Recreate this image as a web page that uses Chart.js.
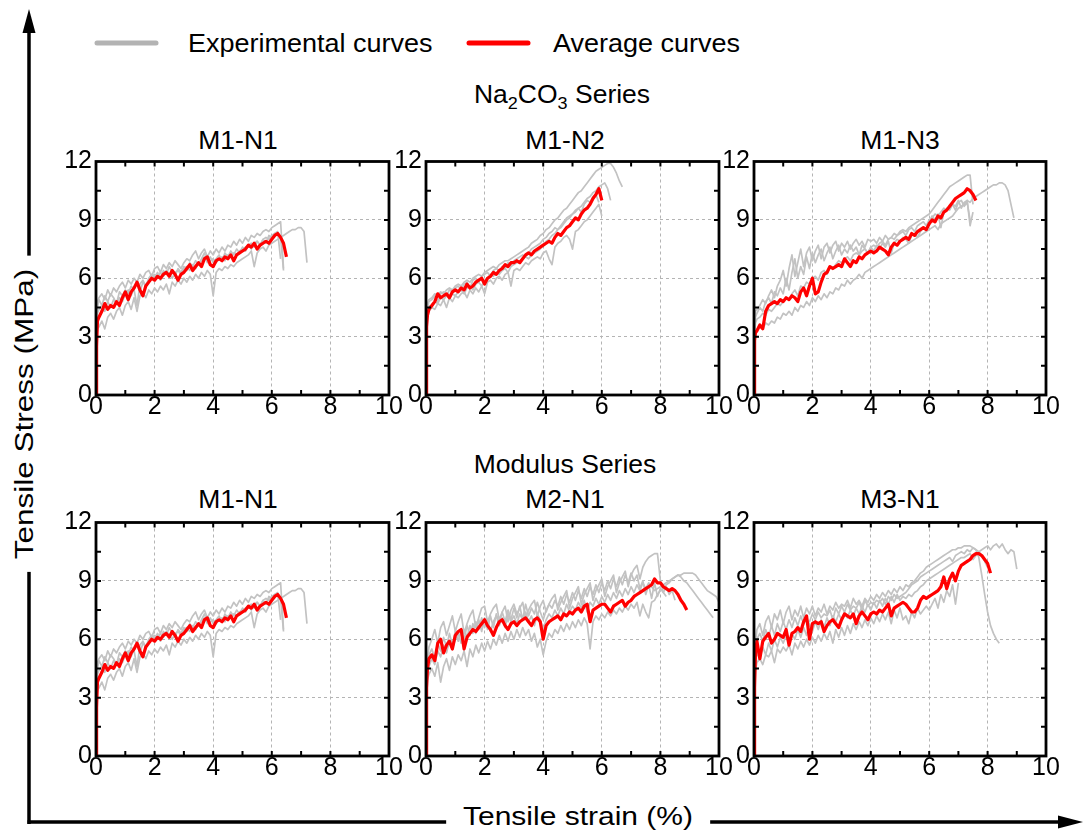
<!DOCTYPE html>
<html>
<head>
<meta charset="utf-8">
<script src="https://cdn.jsdelivr.net/npm/chart.js@4.4.0/dist/chart.umd.min.js"></script>
<style>
  body { margin: 0; background: #fff; }
  #page { position: relative; width: 1084px; height: 833px; overflow: hidden; background: #fff; }
  #page canvas { position: absolute; }
  .txt { position: absolute; font-family: 'Liberation Sans', Arial, sans-serif; color: #000;
         line-height: 1; white-space: nowrap; font-size: 25px; }
  .mid { transform: translate(-50%, -50%) scaleX(1.06); }
  .lft { transform: translateY(-50%) scaleX(1.08); transform-origin: left center; }
  .sub { font-size: 17px; position: relative; top: 6px; }
</style>
</head>
<body>
<div id="page">
  <svg width="1084" height="833" style="position:absolute;left:0;top:0">
    <line x1="29" y1="824" x2="29" y2="28" stroke="#000" stroke-width="3.5"/>
    <polygon points="29,9 22.5,33 35.5,33" fill="#000"/>
    <line x1="27.5" y1="822" x2="1060" y2="822" stroke="#000" stroke-width="3.5"/>
    <polygon points="1083,822 1058,815.5 1058,828.5" fill="#000"/>
    <line x1="97" y1="43" x2="156" y2="43" stroke="#b3b3b3" stroke-width="5" stroke-linecap="round"/>
    <line x1="469" y1="43" x2="528" y2="43" stroke="#ff0000" stroke-width="5" stroke-linecap="round"/>
  </svg>

  <div class="txt lft" style="left:188px;top:43px">Experimental curves</div>
  <div class="txt lft" style="left:553px;top:43px">Average curves</div>
  <div class="txt mid" style="left:562px;top:94px">Na<span class="sub">2</span>CO<span class="sub">3</span> Series</div>
  <div class="txt mid" style="left:565px;top:464px">Modulus Series</div>

  <div class="txt mid" style="left:238px;top:140px">M1-N1</div>
  <div class="txt mid" style="left:565px;top:140px">M1-N2</div>
  <div class="txt mid" style="left:900px;top:140px">M1-N3</div>
  <div class="txt mid" style="left:238px;top:499px">M1-N1</div>
  <div class="txt mid" style="left:565px;top:499px">M2-N1</div>
  <div class="txt mid" style="left:900px;top:499px">M3-N1</div>

  <div class="txt" style="left:24px;top:414px;background:#fff;padding:0 10px;transform:translate(-50%,-50%) rotate(-90deg) scaleX(1.26)">Tensile Stress (MPa)</div>
  <div class="txt" style="left:578px;top:816px;background:#fff;padding:0 14px;transform:translate(-50%,-50%) scaleX(1.2)">Tensile strain (%)</div>

  <canvas id="pA" width="363" height="284" style="left:46px;top:145px"></canvas>
  <canvas id="pB" width="363" height="284" style="left:376px;top:145px"></canvas>
  <canvas id="pC" width="362" height="284" style="left:704px;top:145px"></canvas>
  <canvas id="pD" width="363" height="284" style="left:46px;top:506px"></canvas>
  <canvas id="pE" width="363" height="284" style="left:376px;top:506px"></canvas>
  <canvas id="pF" width="362" height="284" style="left:704px;top:506px"></canvas>
</div>

<script>
// strain (%) shared by every curve, each curve uses as many points as it has values
var strain = [0, 0.02, 0.05,
    0.1, 0.2, 0.3, 0.4, 0.5, 0.6, 0.7, 0.8, 0.9, 1.0,
    1.1, 1.2, 1.3, 1.4, 1.5, 1.6, 1.7, 1.8, 1.9, 2.0,
    2.1, 2.2, 2.3, 2.4, 2.5, 2.6, 2.7, 2.8, 2.9, 3.0,
    3.1, 3.2, 3.3, 3.4, 3.5, 3.6, 3.7, 3.8, 3.9, 4.0,
    4.1, 4.2, 4.3, 4.4, 4.5, 4.6, 4.7, 4.8, 4.9, 5.0,
    5.1, 5.2, 5.3, 5.4, 5.5, 5.6, 5.7, 5.8, 5.9, 6.0,
    6.1, 6.2, 6.3, 6.4, 6.5, 6.6, 6.7, 6.8, 6.9, 7.0,
    7.1, 7.2, 7.3, 7.4, 7.5, 7.6, 7.7, 7.8, 7.9, 8.0,
    8.1, 8.2, 8.3, 8.4, 8.5, 8.6, 8.7, 8.8, 8.9, 9.0,
    9.1, 9.2, 9.3, 9.4, 9.5, 9.6, 9.7, 9.8, 9.9, 10.0];

var xTicks = [0, 2, 4, 6, 8, 10];
var yTicks = [0, 3, 6, 9, 12];
var xMinor = [1, 2, 3, 4, 5, 6, 7, 8, 9];
var yMinor = [1.5, 3, 4.5, 6, 7.5, 9, 10.5];

// ---- M1-N1 ----
var m1n1Avg = [0, 2.5, 3.8,
    4.0, 4.3, 4.7, 4.4, 4.6, 4.5, 4.8, 4.6, 5.0, 5.3,
    4.9, 5.3, 5.5, 5.8, 5.4, 5.1, 5.6, 5.8, 6.0, 5.9,
    6.1, 6.0, 6.2, 6.3, 6.1, 6.4, 6.2, 5.9, 6.2, 6.3,
    6.5, 6.7, 6.4, 6.6, 6.8, 6.6, 7.0, 7.1, 6.7, 6.6,
    6.9, 7.0, 6.9, 7.1, 7.0, 7.2, 6.9, 7.2, 7.3, 7.4,
    7.5, 7.7, 7.6, 7.8, 7.5, 7.7, 7.8, 7.9, 7.8, 8.0,
    8.2, 8.3, 8.1, 7.8, 7.1];
var m1n1Exp1 = [0, 3.5, 4.8,
    5.0, 5.2, 4.9, 5.4, 5.1, 5.5, 5.3, 5.6, 5.8, 5.5,
    5.9, 5.7, 6.0, 5.8, 6.2, 6.0, 6.3, 6.4, 6.1, 6.5,
    6.6, 6.3, 6.7, 6.5, 6.8, 6.6, 6.9, 6.7, 6.5, 6.8,
    7.0, 6.9, 7.2, 7.4, 7.0, 7.3, 7.5, 7.1, 7.4, 7.2,
    7.5, 7.3, 7.6, 7.4, 7.7, 7.6, 7.9, 7.7, 8.0, 7.8,
    8.1, 7.9, 8.2, 8.1, 8.3, 8.2, 8.4, 8.5, 8.4, 8.6,
    8.7, 8.8, 8.9, 6.5];
var m1n1Exp2 = [0, 2.8, 3.4,
    3.5, 3.8, 3.4, 4.0, 4.2, 3.9, 4.3, 4.5, 4.1, 4.6,
    4.8, 4.4, 5.0, 4.3, 5.1, 5.3, 5.0, 5.4, 5.2, 5.5,
    5.3, 5.6, 5.4, 5.7, 5.2, 5.8, 5.6, 5.9, 5.7, 6.0,
    5.8, 6.1, 5.9, 6.2, 6.0, 6.3, 6.1, 6.4, 6.2, 5.1,
    6.3, 6.5, 6.4, 6.6, 6.5, 6.7, 6.6, 6.8, 6.9, 7.0,
    7.1, 7.2, 7.4, 6.6, 7.3, 7.5, 7.6, 7.4, 7.7, 7.8,
    7.9, 8.0, 8.1, 6.4];
var m1n1Exp3 = [0, 3.0, 4.2,
    4.4, 4.6, 4.3, 4.8, 4.5, 4.9, 4.7, 5.0, 4.8, 5.2,
    5.4, 5.1, 5.5, 5.7, 5.3, 5.8, 5.6, 5.9, 6.1, 6.2,
    6.0, 6.3, 6.1, 6.4, 6.2, 6.0, 6.3, 6.4, 6.2, 6.5,
    6.6, 6.4, 6.7, 6.5, 6.8, 6.9, 7.1, 6.8, 6.9, 7.0,
    6.8, 7.0, 7.1, 6.9, 7.2, 7.1, 7.3, 7.2, 7.4, 7.5,
    7.6, 7.7, 7.5, 7.8, 7.9, 7.7, 8.0, 8.1, 8.0, 8.2,
    8.3, 8.2, 8.1, 8.2, 8.3, 8.4, 8.5, 8.5, 8.6, 8.6,
    8.4, 6.8];
var m1n1Exp4 = [0, 3.2, 4.5,
    4.9, 4.6, 5.1, 4.8, 5.2, 5.0, 4.7, 5.3, 5.1, 5.4,
    5.2, 5.6, 5.4, 4.6, 5.7, 5.9, 5.6, 6.0, 6.2, 6.0,
    6.3, 5.9, 6.4, 6.2, 6.6, 6.3, 6.1, 6.5, 6.3, 6.6,
    6.4, 6.8, 6.6, 6.9, 6.7, 7.0, 7.3, 6.9, 7.1, 6.8,
    7.0, 7.2, 6.9, 7.3, 7.1, 7.4, 7.2, 7.5, 7.3, 7.6,
    7.4, 7.7, 7.8, 7.6, 7.9, 7.7, 8.0, 7.8, 8.2, 8.1,
    8.3, 8.4, 7.0];

// ---- M1-N2 ----
var m1n2Avg = [0, 3.5, 4.1,
    4.4, 4.6, 4.8, 5.2, 5.0, 5.1, 5.2, 5.0, 5.3, 5.4,
    5.3, 5.5, 5.4, 5.7, 5.5, 5.6, 5.8, 5.9, 6.0, 5.7,
    6.0, 6.1, 6.3, 6.2, 6.4, 6.5, 6.7, 6.6, 6.8, 6.8,
    6.9, 6.8, 7.0, 7.2, 7.3, 7.2, 7.4, 7.5, 7.6, 7.7,
    7.8, 7.9, 7.8, 8.1, 8.3, 8.2, 8.4, 8.6, 8.7, 8.9,
    9.1, 9.0, 9.3, 9.5, 9.6, 9.8, 10.1, 10.3, 10.6, 10.0];
var m1n2Exp1 = [0, 3.8, 4.7,
    4.9, 5.0, 5.2, 5.1, 5.3, 5.2, 5.4, 5.5, 5.4, 5.6,
    5.7, 5.6, 5.8, 5.9, 5.8, 6.0, 6.1, 6.2, 6.1, 6.3,
    6.4, 6.5, 6.6, 6.5, 6.7, 6.8, 6.9, 6.9, 7.0, 7.1,
    7.2, 7.3, 7.4, 7.5, 7.6, 7.8, 7.9, 8.0, 8.2, 8.3,
    8.5, 8.6, 8.8, 9.0, 9.1, 9.3, 9.5, 9.6, 9.8, 10.0,
    10.2, 10.4, 10.5, 10.7, 10.9, 11.1, 11.3, 11.5, 11.6, 11.7,
    11.8, 11.9, 11.9, 11.7, 11.4, 11.0, 10.7];
var m1n2Exp2 = [0, 3.3, 4.3,
    4.6, 4.5, 4.8, 4.7, 5.0, 4.9, 5.1, 5.0, 5.2, 5.1,
    5.3, 5.4, 5.2, 5.5, 5.6, 5.4, 5.7, 5.8, 5.6, 5.9,
    6.0, 6.2, 6.1, 6.3, 6.2, 6.4, 6.5, 6.3, 6.6, 6.7,
    6.8, 6.9, 7.0, 7.1, 7.0, 7.2, 7.3, 7.4, 7.5, 7.7,
    7.9, 8.0, 8.2, 8.3, 8.5, 8.6, 8.8, 9.0, 9.1, 9.3,
    9.4, 9.6, 9.7, 9.9, 10.1, 10.2, 10.4, 10.5, 10.7, 10.8,
    10.9, 10.6, 10.0];
var m1n2Exp3 = [0, 3.0, 3.9,
    4.3, 4.5, 4.4, 4.7, 4.6, 4.9, 4.5, 5.0, 4.8, 5.1,
    5.0, 5.2, 5.3, 5.0, 5.4, 5.2, 5.5, 5.3, 5.6, 5.2,
    5.8, 5.9, 5.7, 6.0, 6.1, 5.9, 6.2, 6.3, 5.6, 6.4,
    6.5, 6.4, 6.6, 6.8, 6.7, 6.9, 7.0, 7.1, 7.0, 7.3,
    7.4, 7.0, 6.7, 7.6, 7.8, 7.9, 8.1, 8.2, 8.0, 7.5,
    8.4, 8.5, 8.7, 8.9, 9.0, 9.2, 9.4, 9.6, 9.8, 9.2];
var m1n2Exp4 = [0, 3.6, 4.5,
    4.8, 4.9, 5.1, 4.8, 5.2, 5.3, 5.1, 5.4, 5.3, 5.5,
    5.6, 5.4, 5.7, 5.8, 5.5, 5.9, 6.0, 5.8, 6.1, 6.2,
    6.3, 6.1, 6.4, 6.5, 6.4, 6.6, 6.5, 6.8, 6.7, 6.9,
    7.0, 7.1, 7.2, 7.1, 7.3, 7.5, 7.6, 7.7, 7.8, 8.0,
    8.1, 8.3, 8.4, 8.6, 8.5, 8.7, 8.9, 9.1, 9.2, 9.3,
    9.5, 9.6, 9.4, 9.8, 10.0, 9.9, 10.2, 10.3, 9.9];

// ---- M1-N3 ----
var m1n3Avg = [0, 2.8, 3.2,
    3.3, 3.6, 3.4, 4.3, 4.6, 4.7, 4.8, 4.7, 4.9, 4.8,
    5.0, 4.9, 5.1, 5.0, 4.8, 5.3, 5.5, 5.1, 5.6, 6.0,
    5.2, 5.3, 5.8, 6.2, 6.3, 6.6, 6.5, 6.6, 6.7, 6.6,
    7.0, 6.8, 6.6, 6.9, 6.8, 7.1, 7.0, 7.2, 7.3, 7.4,
    7.3, 7.4, 7.6, 7.5, 7.4, 7.2, 7.6, 7.8, 7.7, 7.9,
    8.0, 8.1, 8.0, 8.3, 8.2, 8.4, 8.5, 8.6, 8.5, 8.8,
    9.0, 8.9, 9.2, 9.1, 9.4, 9.5, 9.7, 9.9, 10.1, 10.2,
    10.3, 10.4, 10.6, 10.5, 10.3, 10.0];
var m1n3Exp1 = [0, 3.5, 4.3,
    4.4, 4.6, 4.9, 4.7, 5.1, 5.4, 5.0, 5.6, 5.9, 6.4,
    5.6, 6.5, 7.2, 6.1, 6.8, 7.5, 6.6, 7.3, 7.6, 6.9,
    7.4, 7.7, 7.0, 7.6, 7.8, 7.3, 7.7, 7.9, 7.4, 7.8,
    7.6, 7.9, 7.5, 7.8, 8.0, 7.7, 7.9, 7.6, 8.0, 7.9,
    8.0, 7.8, 8.1, 7.9, 8.2, 8.0, 8.1, 8.3, 8.2, 8.4,
    8.5, 8.4, 8.6, 8.7, 8.8, 8.9, 9.0, 9.1, 9.2, 9.3,
    9.5, 9.7, 9.9, 10.1, 10.3, 10.5, 10.7, 10.8, 10.9, 11.0,
    11.1, 11.2, 11.3, 11.3, 9.8];
var m1n3Exp2 = [0, 3.2, 4.0,
    4.2, 4.5, 4.3, 4.8, 5.0, 4.7, 5.3, 5.1, 5.5, 5.2,
    6.0, 5.4, 6.3, 7.0, 6.0, 6.6, 6.2, 7.1, 6.5, 7.3,
    6.8, 7.2, 7.5, 6.9, 7.3, 7.6, 7.0, 7.4, 7.7, 7.2,
    7.5, 7.3, 7.7, 7.4, 7.6, 7.2, 7.7, 7.5, 7.3, 7.6,
    7.4, 7.7, 7.5, 7.8, 7.6, 7.9, 7.3, 7.8, 8.0, 7.9,
    8.1, 8.0, 7.8, 8.2, 8.3, 8.1, 8.4, 8.6, 8.5, 8.9,
    9.2, 9.0, 9.3, 8.6, 9.4, 9.6, 9.5, 9.8, 9.7, 10.0,
    9.6, 9.9, 10.0, 8.7, 9.4];
var m1n3Exp3 = [0, 2.6, 3.2,
    3.3, 3.6, 3.4, 3.7, 3.6, 3.8, 3.7, 4.0, 3.9, 4.2,
    4.1, 4.3, 4.1, 4.5, 4.3, 4.6, 4.5, 4.8, 4.6, 5.0,
    4.8, 5.1, 4.9, 5.2, 5.0, 5.3, 5.2, 5.5, 5.4, 5.7,
    5.6, 5.9, 5.7, 5.9, 6.0, 6.2, 6.0, 6.3, 6.4, 6.5,
    6.6, 6.7, 6.8, 6.9, 7.0, 7.1, 7.2, 7.3, 7.4, 7.5,
    7.6, 7.7, 7.8, 7.9, 8.0, 8.1, 8.2, 8.3, 8.4, 8.5,
    8.6, 8.7, 8.5, 8.8, 8.9, 9.0, 9.1, 9.2, 9.4, 9.6,
    9.7, 9.8, 10.0, 9.9, 10.1, 10.2, 10.3, 10.4, 10.5, 10.6,
    10.7, 10.8, 10.8, 10.9, 10.9, 10.8, 10.5, 9.8, 9.1];
var m1n3Exp4 = [0, 3.0, 3.7,
    3.9, 4.0, 4.2, 4.1, 4.4, 4.3, 4.5, 4.7, 4.6, 4.8,
    5.0, 4.9, 5.2, 5.4, 5.1, 5.6, 5.5, 5.8, 5.7, 6.0,
    6.1, 5.9, 6.3, 6.4, 6.2, 6.6, 6.5, 6.7, 6.9, 6.8,
    7.0, 7.1, 6.9, 7.2, 7.3, 7.2, 7.4, 7.5, 7.3, 7.6,
    7.7, 7.6, 7.8, 7.9, 7.7, 8.0, 8.1, 8.0, 8.2, 8.3,
    8.4, 8.2, 8.5, 8.6, 8.4, 8.7, 8.8, 8.9, 8.7, 9.0,
    9.1, 9.3, 9.2, 9.4, 9.6, 9.5, 9.7, 9.8, 9.5, 9.9,
    10.0, 9.7, 9.9, 9.0];

// ---- M2-N1 ----
var m2n1Avg = [0, 3.5, 4.5,
    5.0, 5.2, 4.9, 5.8, 6.0, 5.3, 5.7, 5.9, 5.5, 6.2,
    6.4, 6.5, 5.5, 6.1, 6.3, 6.5, 6.4, 6.6, 6.8, 7.0,
    6.7, 6.5, 6.2, 6.6, 6.9, 7.0, 6.7, 6.5, 6.8, 6.9,
    6.7, 6.9, 7.0, 7.1, 6.9, 6.7, 7.0, 7.1, 6.9, 6.0,
    6.7, 6.9, 7.0, 7.1, 7.2, 7.0, 7.3, 7.2, 7.4, 7.3,
    7.5, 7.6, 7.4, 7.7, 7.8, 6.9, 7.5, 7.6, 7.7, 7.8,
    7.8, 7.6, 7.4, 7.7, 7.8, 7.9, 8.0, 7.7, 7.9, 8.0,
    8.2, 8.3, 8.4, 8.5, 8.6, 8.7, 8.8, 9.1, 8.9, 8.9,
    8.7, 8.6, 8.5, 8.6, 8.5, 8.3, 8.0, 7.8, 7.5];
var m2n1Exp1 = [0, 3.8, 5.0,
    5.6, 6.0, 6.5, 5.8, 6.6, 6.9, 6.2, 6.7, 7.2, 6.4,
    6.9, 7.3, 6.3, 6.8, 7.2, 7.5, 6.6, 7.1, 7.6, 7.7,
    6.9, 7.3, 7.6, 7.8, 7.0, 7.4, 7.7, 6.9, 7.5, 7.8,
    7.3, 7.6, 7.9, 7.1, 7.5, 7.8, 8.0, 7.2, 7.7, 8.0,
    7.4, 7.8, 8.1, 8.3, 7.5, 7.9, 8.2, 8.5, 7.6, 8.1,
    8.4, 8.7, 7.8, 8.3, 8.6, 8.9, 8.0, 8.5, 8.8, 9.1,
    8.2, 8.7, 9.0, 9.3, 8.4, 8.9, 9.2, 9.5, 8.7, 9.3,
    9.6, 9.8, 9.1, 9.7, 10.0, 10.2, 10.3, 10.4, 10.4, 9.0,
    8.4, 8.2];
var m2n1Exp2 = [0, 3.2, 4.2,
    4.6, 5.0, 4.7, 5.4, 5.1, 5.7, 5.3, 5.9, 5.5, 6.0,
    6.3, 5.8, 6.5, 6.1, 6.7, 6.3, 6.9, 6.5, 7.1, 6.6,
    7.0, 6.4, 6.9, 7.2, 6.7, 7.1, 6.6, 7.3, 6.9, 7.2,
    6.8, 7.3, 7.0, 7.4, 6.9, 7.2, 6.7, 7.3, 7.0, 6.5,
    7.0, 7.3, 7.1, 7.5, 7.2, 7.6, 7.3, 7.8, 7.4, 7.7,
    7.5, 7.9, 7.6, 8.0, 7.4, 7.9, 7.7, 8.1, 7.8, 8.2,
    7.9, 8.3, 8.0, 8.4, 8.1, 8.5, 8.2, 8.6, 8.3, 8.7,
    8.4, 8.8, 8.5, 8.9, 8.6, 8.9, 8.7, 8.5, 8.6, 8.7,
    8.8, 8.9, 9.0, 9.1, 9.2, 9.3, 9.3, 9.4, 9.4, 9.4,
    9.4, 9.3, 9.1, 8.9, 8.7, 8.5, 8.4, 8.3, 8.2, 7.9];
var m2n1Exp3 = [0, 2.8, 3.9,
    4.2, 4.5, 4.1, 4.8, 3.8, 4.6, 5.0, 4.4, 5.1, 4.7,
    5.2, 4.9, 5.4, 4.6, 5.5, 5.1, 5.7, 5.3, 5.8, 5.4,
    5.9, 5.5, 6.0, 5.7, 6.2, 5.8, 6.3, 5.9, 6.4, 6.0,
    6.5, 6.1, 6.6, 6.2, 6.5, 5.9, 6.3, 5.6, 6.0, 5.2,
    5.9, 6.3, 6.1, 6.5, 6.3, 6.7, 6.4, 6.8, 6.5, 6.9,
    6.6, 7.0, 6.7, 7.1, 6.8, 5.5, 6.9, 7.2, 7.0, 7.3,
    7.1, 7.4, 7.2, 7.5, 7.3, 7.6, 7.4, 7.7, 7.5, 7.8,
    7.6, 7.9, 7.2, 7.8, 7.4, 7.1, 7.9, 8.0, 8.3, 8.5,
    8.6, 8.8, 8.9, 9.1, 9.2, 9.3, 9.2, 9.0, 8.9, 8.7,
    8.5, 8.3, 8.1, 7.9, 7.7, 7.5, 7.3, 7.1];
var m2n1Exp4 = [0, 3.4, 4.6,
    5.2, 5.5, 5.0, 5.8, 5.4, 6.1, 5.6, 6.3, 5.7, 6.4,
    5.9, 6.5, 6.0, 6.7, 6.2, 6.8, 6.3, 7.0, 6.4, 7.1,
    6.5, 7.2, 6.6, 7.3, 6.8, 7.4, 6.9, 7.5, 7.0, 7.6,
    7.1, 7.7, 7.0, 7.8, 7.2, 7.6, 7.3, 7.9, 7.4, 7.0,
    7.5, 7.8, 7.6, 8.0, 7.7, 8.2, 7.8, 8.3, 7.9, 8.4,
    8.0, 8.5, 8.1, 8.6, 8.2, 8.7, 8.3, 8.8, 8.4, 8.9,
    8.5, 9.0, 8.6, 9.1, 8.7, 9.2, 8.8, 9.3, 8.9, 9.4,
    9.0, 9.3, 8.6, 9.0, 8.3, 8.8, 8.1, 8.9, 8.2, 8.6,
    8.4, 8.7, 8.3, 8.5, 8.0];

// ---- M3-N1 ----
var m3n1Avg = [0, 3.5, 5.3,
    5.9, 5.0, 5.9, 6.1, 6.3, 5.8, 6.0, 6.3, 6.2, 6.1,
    6.5, 5.7, 6.3, 6.4, 6.6, 6.4, 6.9, 7.2, 6.0, 6.8,
    6.9, 6.8, 6.9, 6.4, 6.7, 6.9, 7.0, 6.8, 6.6, 7.0,
    7.3, 7.2, 7.1, 7.3, 6.8, 7.2, 7.4, 7.2, 7.0, 7.3,
    7.4, 7.3, 7.5, 7.4, 7.6, 7.8, 7.2, 7.6, 7.7, 7.8,
    7.9, 7.8, 7.6, 7.4, 7.4, 7.6, 8.0, 8.2, 8.1, 8.2,
    8.3, 8.4, 8.5, 8.7, 9.2, 8.6, 9.1, 9.4, 9.0, 9.5,
    9.8, 9.9, 10.0, 10.1, 10.3, 10.4, 10.4, 10.3, 10.1, 9.9,
    9.4];
var m3n1Exp1 = [0, 4.0, 5.8,
    6.5, 6.8, 6.2, 6.9, 7.2, 6.6, 7.3, 7.0, 7.5, 6.8,
    7.4, 7.7, 7.0, 7.5, 7.2, 7.7, 7.1, 7.6, 7.3, 7.7,
    7.2, 7.6, 7.4, 7.8, 7.3, 7.7, 7.5, 7.9, 7.6, 7.8,
    7.7, 8.0, 7.6, 8.1, 7.8, 8.0, 7.7, 8.1, 7.9, 8.2,
    8.0, 8.3, 8.1, 8.4, 8.2, 8.5, 8.3, 8.6, 8.4, 8.7,
    8.5, 8.8, 8.7, 8.9, 9.0, 9.2, 9.4, 9.5, 9.7, 9.8,
    9.9, 10.0, 10.1, 10.2, 10.3, 10.4, 10.5, 10.6, 10.6, 10.7,
    10.7, 10.8, 10.8, 10.8, 10.7, 10.6, 10.2, 9.3, 8.3, 7.4,
    6.7, 6.3, 6.0, 5.8];
var m3n1Exp2 = [0, 3.2, 4.8,
    5.3, 5.0, 5.6, 5.2, 5.8, 5.4, 6.0, 5.6, 6.1, 5.8,
    6.2, 5.7, 6.3, 6.0, 6.5, 6.1, 6.6, 6.2, 6.8, 6.4,
    6.9, 6.5, 7.0, 6.6, 7.1, 6.7, 7.2, 6.9, 7.3, 7.0,
    7.4, 7.1, 7.5, 7.2, 7.6, 7.3, 7.7, 7.4, 7.8, 7.5,
    7.9, 7.6, 8.0, 7.7, 8.1, 7.8, 8.2, 7.9, 8.3, 8.0,
    8.2, 8.1, 8.3, 8.2, 8.4, 8.5, 8.7, 8.8, 9.0, 9.1,
    9.2, 9.3, 9.4, 9.5, 9.6, 9.7, 9.8, 9.9, 10.0, 10.1,
    10.2, 10.2, 10.3, 10.4, 10.1, 10.3, 10.5, 10.6, 10.7, 10.8,
    10.6, 10.8, 10.9, 10.7, 10.9, 10.6, 10.4, 10.6, 10.5, 9.6];
var m3n1Exp3 = [0, 3.0, 4.4,
    4.8, 5.0, 4.7, 5.2, 5.1, 5.4, 4.8, 5.5, 5.3, 5.6,
    5.4, 5.7, 5.2, 5.8, 5.5, 5.9, 5.6, 6.0, 5.7, 6.1,
    5.8, 6.2, 5.9, 6.3, 6.0, 6.4, 5.8, 6.5, 6.1, 6.6,
    6.2, 6.7, 6.3, 6.8, 6.5, 6.9, 6.6, 7.0, 6.7, 7.1,
    6.8, 7.2, 6.9, 7.3, 7.0, 7.4, 6.8, 7.5, 7.1, 7.6,
    7.0, 7.2, 6.8, 7.4, 7.1, 7.6, 7.3, 7.5, 7.7, 7.5,
    7.8, 8.1, 7.6, 8.3, 7.9, 8.5, 8.2, 8.8, 7.8, 8.9];
var m3n1Exp4 = [0, 3.6, 5.5,
    6.0, 6.3, 5.9, 6.5, 6.1, 6.7, 6.2, 6.8, 6.4, 6.9,
    6.5, 7.0, 6.6, 7.1, 6.7, 7.2, 6.8, 7.0, 6.9, 7.3,
    7.0, 7.4, 7.1, 7.3, 7.2, 7.5, 7.0, 7.6, 7.3, 7.7,
    7.4, 7.8, 7.5, 7.7, 7.6, 7.9, 7.5, 8.0, 7.7, 7.9,
    7.8, 8.0, 7.9, 8.1, 7.8, 8.2, 8.0, 8.3, 8.1, 8.2,
    8.3, 8.4, 8.6, 8.8, 8.9, 9.0, 9.2, 9.3, 9.4, 9.5,
    9.6, 9.7, 9.8, 9.9, 10.0, 10.1, 10.2, 10.0, 10.3, 10.4,
    10.5, 10.4, 10.6, 10.5, 10.7, 10.6, 10.5, 10.3, 10.0, 9.7];

var fontFamily = "'Liberation Sans', Arial, sans-serif";

function toPoints(values) {
    var pts = [];
    for (var i = 0; i < values.length; i++) {
        pts.push({ x: strain[i], y: values[i] });
    }
    return pts;
}

// frame + inward ticks on all four sides
var framePlugin = {
    id: 'frame',
    afterDatasetsDraw: function (chart) {
        var ctx = chart.ctx;
        var a = chart.chartArea;
        var sx = chart.scales.x;
        var sy = chart.scales.y;
        ctx.save();
        ctx.strokeStyle = '#000';
        ctx.lineWidth = 2;
        ctx.beginPath();
        for (var i = 0; i < xMinor.length; i++) {
            var px = sx.getPixelForValue(xMinor[i]);
            ctx.moveTo(px, a.top);
            ctx.lineTo(px, a.top + 5);
            ctx.moveTo(px, a.bottom);
            ctx.lineTo(px, a.bottom - 5);
        }
        for (var j = 0; j < yMinor.length; j++) {
            var py = sy.getPixelForValue(yMinor[j]);
            ctx.moveTo(a.left, py);
            ctx.lineTo(a.left + 5, py);
            ctx.moveTo(a.right, py);
            ctx.lineTo(a.right - 5, py);
        }
        ctx.stroke();
        ctx.lineWidth = 2.8;
        ctx.strokeRect(a.left, a.top, a.right - a.left, a.bottom - a.top);
        ctx.restore();
    }
};

function makePanel(id, average, curves) {
    var datasets = [{
        data: toPoints(average),
        borderColor: '#ff0000',
        borderWidth: 3.2,
        pointRadius: 0,
        showLine: true,
        tension: 0,
        borderJoinStyle: 'round'
    }];
    for (var i = 0; i < curves.length; i++) {
        datasets.push({
            data: toPoints(curves[i]),
            borderColor: '#c2c2c2',
            borderWidth: 1.7,
            pointRadius: 0,
            showLine: true,
            tension: 0,
            borderJoinStyle: 'round'
        });
    }

    new Chart(document.getElementById(id), {
        type: 'scatter',
        data: { datasets: datasets },
        options: {
            responsive: false,
            animation: false,
            events: [],
            layout: { padding: { top: 15, right: 20, left: 0, bottom: 0 } },
            plugins: { legend: { display: false }, tooltip: { enabled: false } },
            scales: {
                x: {
                    type: 'linear', min: 0, max: 10,
                    afterFit: function (s) { s.height = 34; },
                    afterBuildTicks: function (s) { s.ticks = xTicks.map(function (v) { return { value: v }; }); },
                    ticks: { color: '#000', padding: 0, maxRotation: 0, autoSkip: false,
                             font: { family: fontFamily, size: 25, lineHeight: 1 } },
                    grid: { color: '#b4b4b4', lineWidth: 1, drawTicks: false },
                    border: { display: false, dash: [3, 3] }
                },
                y: {
                    type: 'linear', min: 0, max: 12,
                    afterFit: function (s) { s.width = 50; },
                    afterBuildTicks: function (s) { s.ticks = yTicks.map(function (v) { return { value: v }; }); },
                    ticks: { color: '#000', padding: 4, autoSkip: false,
                             font: { family: fontFamily, size: 25, lineHeight: 1 } },
                    grid: { color: '#b4b4b4', lineWidth: 1, drawTicks: false },
                    border: { display: false, dash: [3, 3] }
                }
            }
        },
        plugins: [framePlugin]
    });
}

makePanel('pA', m1n1Avg, [m1n1Exp1, m1n1Exp2, m1n1Exp3, m1n1Exp4]);
makePanel('pB', m1n2Avg, [m1n2Exp1, m1n2Exp2, m1n2Exp3, m1n2Exp4]);
makePanel('pC', m1n3Avg, [m1n3Exp1, m1n3Exp2, m1n3Exp3, m1n3Exp4]);
makePanel('pD', m1n1Avg, [m1n1Exp1, m1n1Exp2, m1n1Exp3, m1n1Exp4]);
makePanel('pE', m2n1Avg, [m2n1Exp1, m2n1Exp2, m2n1Exp3, m2n1Exp4]);
makePanel('pF', m3n1Avg, [m3n1Exp1, m3n1Exp2, m3n1Exp3, m3n1Exp4]);
</script>
</body>
</html>
